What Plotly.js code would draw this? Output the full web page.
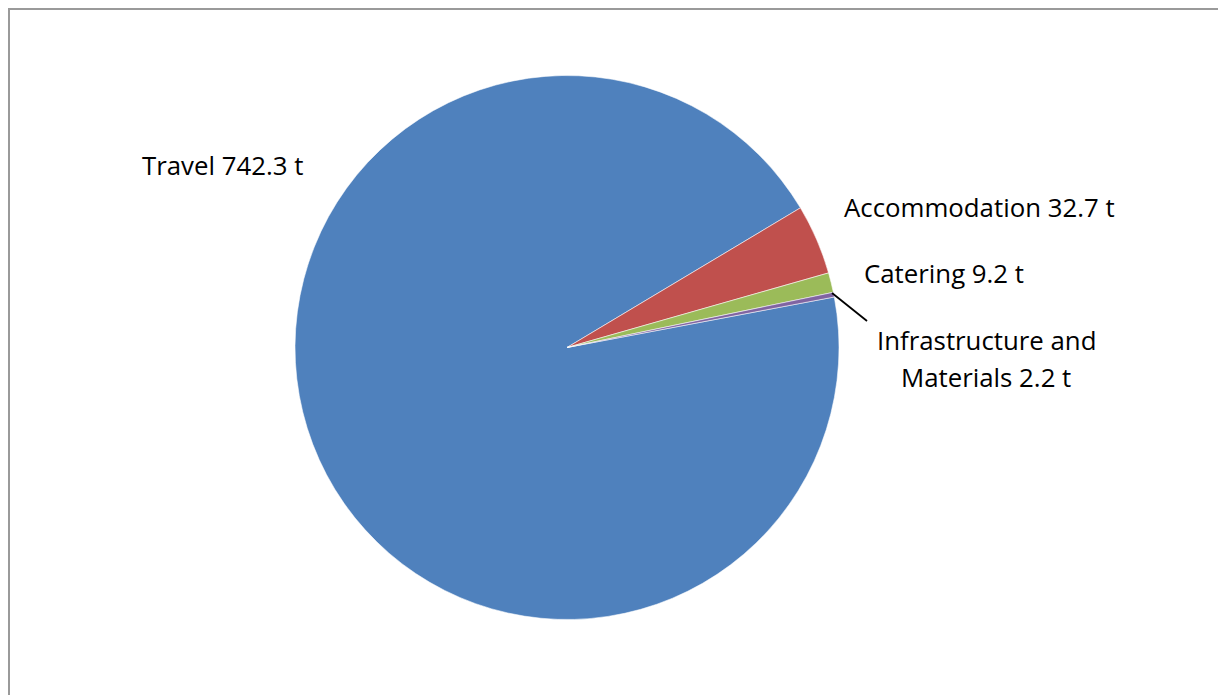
<!DOCTYPE html>
<html>
<head>
<meta charset="utf-8">
<script src="https://cdn.plot.ly/plotly-3.0.1.min.js"></script>
<style>html,body{margin:0;padding:0;background:#fff;}#chart{width:1218px;height:695px;}</style>
</head>
<body>
<div id="chart"></div>
<script>
const categories = ["Travel", "Accommodation", "Catering", "Infrastructure and Materials"];
const values = [742.3, 32.7, 9.2, 2.2];
const unit = "t";
const colors = ["#4F81BD", "#C0504D", "#9BBB59", "#8064A2"];

const W = 1218, H = 695;
const px = x => x / W;
const py = y => 1 - y / H;

const labelText = [
  categories[0] + " " + values[0] + " " + unit,
  categories[1] + " " + values[1] + " " + unit,
  categories[2] + " " + values[2] + " " + unit,
  "Infrastructure and",
  "Materials " + values[3] + " " + unit
];
const labelPos = [[222, 165], [979, 207], [944, 273], [986, 340], [986, 377]];

const font = {family: "Open Sans, Liberation Sans, sans-serif", size: 25.8, color: "#000"};

const trace = {
  type: "pie",
  labels: categories,
  values: values,
  sort: false,
  direction: "clockwise",
  rotation: 79.3,
  textinfo: "none",
  hoverinfo: "label+value",
  marker: {colors: colors, line: {color: "rgba(255,255,255,0.55)", width: 1}},
  domain: {x: [px(295), px(839)], y: [py(620), py(75)]},
  showlegend: false
};

const annotations = labelText.map((t, i) => ({
  text: t, x: px(labelPos[i][0]), y: py(labelPos[i][1]),
  xref: "paper", yref: "paper", showarrow: false,
  xanchor: "center", yanchor: "middle", align: "center", font: font
}));

const layout = {
  width: W, height: H,
  margin: {l: 0, r: 0, t: 0, b: 0},
  paper_bgcolor: "#fff",
  annotations: annotations,
  shapes: [
    {type: "line", xref: "paper", yref: "paper", x0: px(9), x1: px(9), y0: py(8), y1: 0, line: {color: "#9a9a9a", width: 2}},
    {type: "line", xref: "paper", yref: "paper", x0: px(8), x1: 1, y0: py(9), y1: py(9), line: {color: "#9a9a9a", width: 2}},
    {type: "line", xref: "paper", yref: "paper", x0: px(832), x1: px(867), y0: py(293), y1: py(321), line: {color: "#000", width: 1.8}}
  ]
};

Plotly.newPlot("chart", [trace], layout, {displayModeBar: false, staticPlot: true});
</script>
</body>
</html>
